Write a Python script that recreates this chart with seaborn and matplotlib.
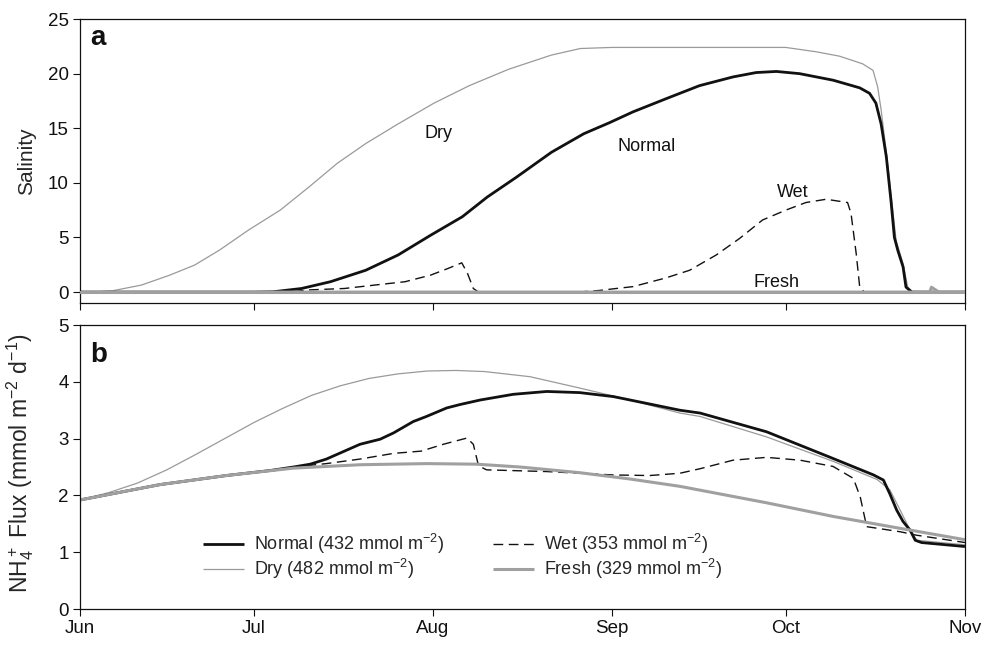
import matplotlib
matplotlib.use("Agg")
import matplotlib.pyplot as plt
import seaborn as sns
import pandas as pd

# ---------------- data ----------------
month_labels = ["Jun", "Jul", "Aug", "Sep", "Oct", "Nov"]
month_days = [0, 30, 61, 92, 122, 153]

# Panel a: salinity
dry_sal_day = [0, 3, 5.6, 10.6, 15.5, 19.8, 24.1, 29.1, 34.6, 39.6, 44.5, 49.4, 55, 61.2, 67.3, 74.1,
               81.5, 86.5, 92, 122, 127.3, 131.3, 135.3, 137.1, 137.9, 138.5, 139.4, 140.2, 141.1,
               142.3, 143.1, 144, 153]
dry_sal = [0, 0.03, 0.12, 0.64, 1.55, 2.47, 3.84, 5.67, 7.5, 9.63, 11.8, 13.6, 15.4, 17.3, 18.9, 20.4,
           21.7, 22.3, 22.4, 22.4, 22.0, 21.6, 20.9, 20.3, 18.8, 16.7, 12.8, 9.0, 4.7,
           2.6, 0.46, 0, 0]

normal_sal_day = [0, 30, 33.4, 38.3, 43.3, 49.4, 55, 60.6, 66.1, 70.4, 75.4, 81.5, 87.1, 91.5, 95.6,
                  101.3, 107.1, 112.9, 116.9, 120.4, 124.4, 130.2, 134.8, 136.5, 137.6, 138.5, 139.4,
                  140.2, 140.8, 141.4, 142.3, 142.8, 143.8, 153]
normal_sal = [0, 0, 0.03, 0.33, 0.95, 2.0, 3.4, 5.2, 6.9, 8.7, 10.5, 12.8, 14.5, 15.5, 16.5,
              17.7, 18.9, 19.7, 20.1, 20.2, 20.0, 19.4, 18.7, 18.2, 17.3, 15.4, 12.4,
              8.4, 5.0, 3.8, 2.3, 0.46, 0, 0]

wet_sal_day = [0, 36, 39.6, 45.7, 51.9, 56.2, 60.6, 63.6, 66, 67, 68, 68.9, 86, 89.8, 92.7, 95.6,
               101.3, 105.4, 110, 114, 118, 122, 125.5, 129, 132.7, 133.3, 134.2, 134.8, 135.6, 153]
wet_sal = [0, 0, 0.2, 0.33, 0.7, 0.95, 1.55, 2.16, 2.68, 1.7, 0.33, 0, 0, 0.15, 0.33, 0.5,
           1.3, 2.0, 3.4, 4.9, 6.6, 7.5, 8.2, 8.5, 8.2, 7.2, 3.5, 0.46, 0, 0]

fresh_sal_day = [0, 146.9, 147.2, 148.5, 153]
fresh_sal = [0, 0, 0.45, 0, 0]

# Panel b: NH4+ flux
dry_flux_day = [0, 5, 10, 15, 20, 25, 30, 35, 40, 45, 50, 55, 60, 65, 70, 77.8, 86.4, 95.1, 103.7,
                107.2, 118.7, 130.2, 137.8, 140, 141.8, 143.5, 144.7, 153]
dry_flux = [1.92, 2.05, 2.22, 2.45, 2.72, 3.0, 3.28, 3.53, 3.76, 3.93, 4.06, 4.14, 4.19, 4.2, 4.18,
            4.09, 3.89, 3.68, 3.45, 3.39, 3.03, 2.6, 2.28, 2.1, 1.74, 1.39, 1.21, 1.13]

normal_flux_day = [0, 13.8, 25.3, 33, 36.9, 39.8, 42.6, 48.4, 51.9, 54.2, 57.6, 59.9, 63.4, 65.7, 69.2,
                   74.9, 80.7, 86.4, 92.2, 97.5, 103.7, 107.2, 118.7, 130.2, 137.2, 138.9, 140, 141.2,
                   142.3, 143.5, 144.4, 145.5, 153]
normal_flux = [1.92, 2.19, 2.35, 2.44, 2.5, 2.55, 2.64, 2.9, 2.99, 3.1, 3.3, 3.39, 3.54, 3.6, 3.68,
               3.78, 3.83, 3.81, 3.74, 3.63, 3.5, 3.45, 3.12, 2.65, 2.36, 2.27, 2.03, 1.74,
               1.54, 1.39, 1.21, 1.17, 1.1]

wet_flux_day = [0, 13.8, 25.3, 33, 36.9, 42.6, 48.4, 54.2, 59, 62.8, 66.9, 68, 68.9, 70.3, 80.7, 92.2,
                98.5, 103.7, 107.2, 112.9, 118.7, 124.5, 130.2, 133.7, 134.9, 136, 141.8, 144.6, 153]
wet_flux = [1.92, 2.19, 2.35, 2.44, 2.5, 2.56, 2.64, 2.74, 2.78, 2.9, 3.01, 2.9, 2.52, 2.45, 2.42, 2.36,
            2.35, 2.39, 2.47, 2.62, 2.67, 2.62, 2.51, 2.3, 1.97, 1.45, 1.36, 1.3, 1.17]

fresh_flux_day = [0, 13.8, 25.3, 36.9, 48.4, 59.9, 68.5, 76.1, 86.4, 95, 103.7, 118.7, 130.2, 141.8, 153]
fresh_flux = [1.92, 2.19, 2.35, 2.48, 2.54, 2.56, 2.55, 2.5, 2.4, 2.29, 2.16, 1.87, 1.63, 1.42, 1.22]

legend_labels = ["Normal (432 mmol m$^{-2}$)", "Dry (482 mmol m$^{-2}$)",
                 "Wet (353 mmol m$^{-2}$)", "Fresh (329 mmol m$^{-2}$)"]

# ---------------- style ----------------
sns.set_style("ticks")
plt.rcParams["font.family"] = ["Liberation Sans", "DejaVu Sans"]
plt.rcParams["mathtext.default"] = "regular"

BLACK = "#111111"
GRAY_THIN = "#9a9a9a"
GRAY_THICK = "#a0a0a0"
styles = {
    "Dry": dict(color=GRAY_THIN, lw=0.9),
    "Wet": dict(color=BLACK, lw=1.0, dashes=(7, 4)),
    "Normal": dict(color=BLACK, lw=2.0),
    "Fresh": dict(color=GRAY_THICK, lw=2.2),
}

fig = plt.figure(figsize=(9.94, 6.45), dpi=100)
ax1 = fig.add_axes([0.0805, 0.5302, 0.8903, 0.4403])
ax2 = fig.add_axes([0.0805, 0.0558, 0.8903, 0.4403])


def draw(ax, name, days, vals, label=None):
    st = dict(styles[name])
    dashes = st.pop("dashes", None)
    sns.lineplot(x=days, y=vals, ax=ax, estimator=None, label=label, legend=False, **st)
    line = ax.get_lines()[-1]
    if dashes is not None:
        line.set_dashes(dashes)
    line.set_solid_capstyle("butt")
    return line


# panel a
draw(ax1, "Dry", dry_sal_day, dry_sal)
draw(ax1, "Wet", wet_sal_day, wet_sal)
draw(ax1, "Normal", normal_sal_day, normal_sal)
draw(ax1, "Fresh", fresh_sal_day, fresh_sal)
ax1.axhline(0, color=GRAY_THICK, lw=2.2, zorder=3)

# panel b
h_dry = draw(ax2, "Dry", dry_flux_day, dry_flux)
h_wet = draw(ax2, "Wet", wet_flux_day, wet_flux)
h_norm = draw(ax2, "Normal", normal_flux_day, normal_flux)
h_fresh = draw(ax2, "Fresh", fresh_flux_day, fresh_flux)

TICK_FS = 13.5
for ax in (ax1, ax2):
    ax.set_xlim(0, 153)
    ax.set_xticks(month_days)
    ax.tick_params(direction="out", length=5, width=0.8, labelsize=TICK_FS, pad=3, colors=BLACK)
    for s in ax.spines.values():
        s.set_visible(True)
        s.set_linewidth(0.9)
        s.set_color(BLACK)
    ax.set_xlabel("")

ax1.set_ylim(-1, 25)
ax1.set_yticks([0, 5, 10, 15, 20, 25])
ax1.tick_params(axis="x", labelbottom=False)
ax1.set_ylabel("Salinity", fontsize=15)
ax1.yaxis.set_label_coords(-0.050, 0.5)

ax2.set_ylim(0, 5)
ax2.set_yticks([0, 1, 2, 3, 4, 5])
ax2.set_xticklabels(month_labels)
ax2.set_ylabel("NH$_4^+$ Flux (mmol m$^{-2}$ d$^{-1}$)", fontsize=16.5)
ax2.yaxis.set_label_coords(-0.050, 0.515)

# panel letters
ax1.text(0.012, 0.91, "a", transform=ax1.transAxes, fontsize=20, fontweight="bold",
         ha="left", va="baseline", color=BLACK)
ax2.text(0.012, 0.87, "b", transform=ax2.transAxes, fontsize=20, fontweight="bold",
         ha="left", va="baseline", color=BLACK)

# curve labels in panel a
ax1.text(62, 14.5, "Dry", fontsize=13, ha="center", va="center", color=BLACK)
ax1.text(98, 13.3, "Normal", fontsize=13, ha="center", va="center", color=BLACK)
ax1.text(123.2, 9.1, "Wet", fontsize=13, ha="center", va="center", color=BLACK)
ax1.text(120.4, 0.9, "Fresh", fontsize=13, ha="center", va="center", color=BLACK)

# legend
ax2.legend([h_norm, h_dry, h_wet, h_fresh], legend_labels, ncol=2, frameon=False,
           fontsize=13, loc="center", bbox_to_anchor=(0.432, 0.185),
           handlelength=2.3, handletextpad=0.55, columnspacing=2.7, labelspacing=0.05)

fig.savefig("out.png", dpi=100)
